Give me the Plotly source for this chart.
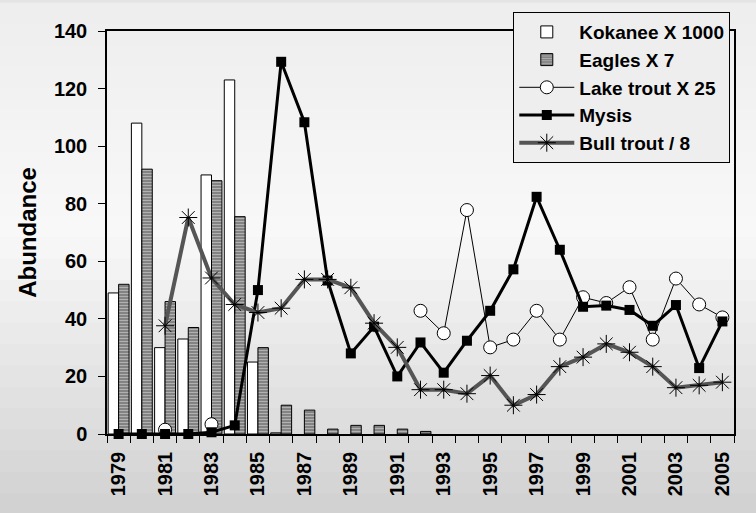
import plotly.graph_objects as go

years = [str(y) for y in range(1979, 2006)]

kokanee = [49, 108, 30, 33, 90, 123, 25, 0.4, None, None, None, None, None, None,
           None, None, None, None, None, None, None, None, None, None, None, None, None]
eagles = [52, 92, 46, 37, 88, 75.5, 30, 10, 8.3, 1.7, 3, 3, 1.7, 0.9,
          None, None, None, None, None, None, None, None, None, None, None, None, None]
lake_trout = [None, None, 1.5, None, 3.4, None, None, None, None, None, None, None, None, 42.8,
              35, 77.8, 30.1, 32.8, 42.8, 32.8, 47.5, 45.5, 51, 32.8, 54, 45, 40.5]
mysis = [0, 0, 0, 0, 0.6, 3, 50, 129.3, 108.3, 53.3, 28, 37.3, 20, 31.8,
         21.3, 32.4, 42.8, 57.2, 82.4, 64, 44.2, 44.6, 43.1, 37.6, 44.8, 22.9, 39.1]
bull_trout = [None, None, 37.6, 75.2, 54.2, 45, 42.2, 43.7, 53.7, 53.7, 50.8, 38.5, 30.1, 15.4,
              15.4, 14, 20.3, 10, 13.7, 23.4, 26.7, 31.3, 28.4, 23.4, 16.1, 16.9, 18]

tick_text = [y if i % 2 == 0 else "" for i, y in enumerate(years)]

font_family = "Liberation Sans, Arial, sans-serif"

fig = go.Figure()

fig.add_trace(go.Bar(
    x=years, y=kokanee, name="Kokanee X 1000",
    marker=dict(color="white", line=dict(color="black", width=1)),
))
fig.add_trace(go.Bar(
    x=years, y=eagles, name="Eagles X 7",
    marker=dict(
        color="#7a7a7a",
        line=dict(color="black", width=1),
        pattern=dict(shape="-", fgcolor="#e8e8e8", bgcolor="#7a7a7a", size=3, solidity=0.45),
    ),
))
fig.add_trace(go.Scatter(
    x=years, y=lake_trout, name="Lake trout X 25", mode="lines+markers", cliponaxis=False,
    line=dict(color="black", width=1),
    marker=dict(symbol="circle", size=13, color="white", line=dict(color="black", width=1)),
))
fig.add_trace(go.Scatter(
    x=years, y=mysis, name="Mysis", mode="lines+markers", cliponaxis=False,
    line=dict(color="black", width=3),
    marker=dict(symbol="square", size=10, color="black"),
))
fig.add_trace(go.Scatter(
    x=years, y=bull_trout, name="Bull trout / 8", mode="lines+markers", cliponaxis=False,
    line=dict(color="#555555", width=4),
    marker=dict(symbol="asterisk-open", size=15, color="black", line=dict(color="black", width=1)),
))

# soft vertical gradient behind everything, like the original slide
bands = 24
shapes = []
for i in range(bands):
    t = i / (bands - 1)
    if t < 0.45:
        v = 238 + (248 - 238) * t / 0.45
    else:
        v = 248 - (248 - 210) * (t - 0.45) / 0.55
    v = int(round(v))
    y1 = 1.07 - i * (1.07 + 0.2) / bands
    y0 = y1 - (1.07 + 0.2) / bands - 0.002
    shapes.append(dict(
        type="rect", xref="paper", yref="paper", x0=-0.2, x1=1.05, y0=y0, y1=y1,
        fillcolor="rgb({0},{0},{0})".format(v), line=dict(width=0), layer="below",
    ))

fig.update_layout(
    width=756, height=513,
    margin=dict(l=107, r=22, t=28, b=79),
    paper_bgcolor="#e4e4e4", plot_bgcolor="rgba(0,0,0,0)",
    shapes=shapes,
    barmode="group", bargap=0.1, bargroupgap=0,
    font=dict(family=font_family, color="black", size=16, weight="bold"),
    showlegend=True,
    legend=dict(
        x=0.648, y=1.047, xanchor="left", yanchor="top",
        bgcolor="#eeeeee", bordercolor="black", borderwidth=1,
        font=dict(family=font_family, size=19, weight="bold"),
        itemwidth=55, traceorder="normal", tracegroupgap=0,
    ),
    xaxis=dict(
        type="category", tickmode="array", tickvals=years, ticktext=tick_text,
        range=[-0.5, len(years) - 0.5],
        tickangle=-90, tickson="boundaries", ticks="outside", ticklen=7,
        tickcolor="black", showline=True, linecolor="black", linewidth=1.5,
        mirror=True, showgrid=False, tickfont=dict(size=20, weight="bold"),
        ticklabelstandoff=8,
    ),
    yaxis=dict(
        range=[0, 140], dtick=20, ticks="outside", ticklen=7, tickcolor="black",
        showline=True, linecolor="black", linewidth=1.5, mirror=True,
        showgrid=False, zeroline=False, tickfont=dict(size=20, weight="bold"),
        ticklabelstandoff=7,
        title=dict(text="Abundance", font=dict(size=24, weight="bold"), standoff=10),
    ),
)

fig.write_html("out.html", config={"displayModeBar": False},
               post_script="document.body.style.margin='0';")
